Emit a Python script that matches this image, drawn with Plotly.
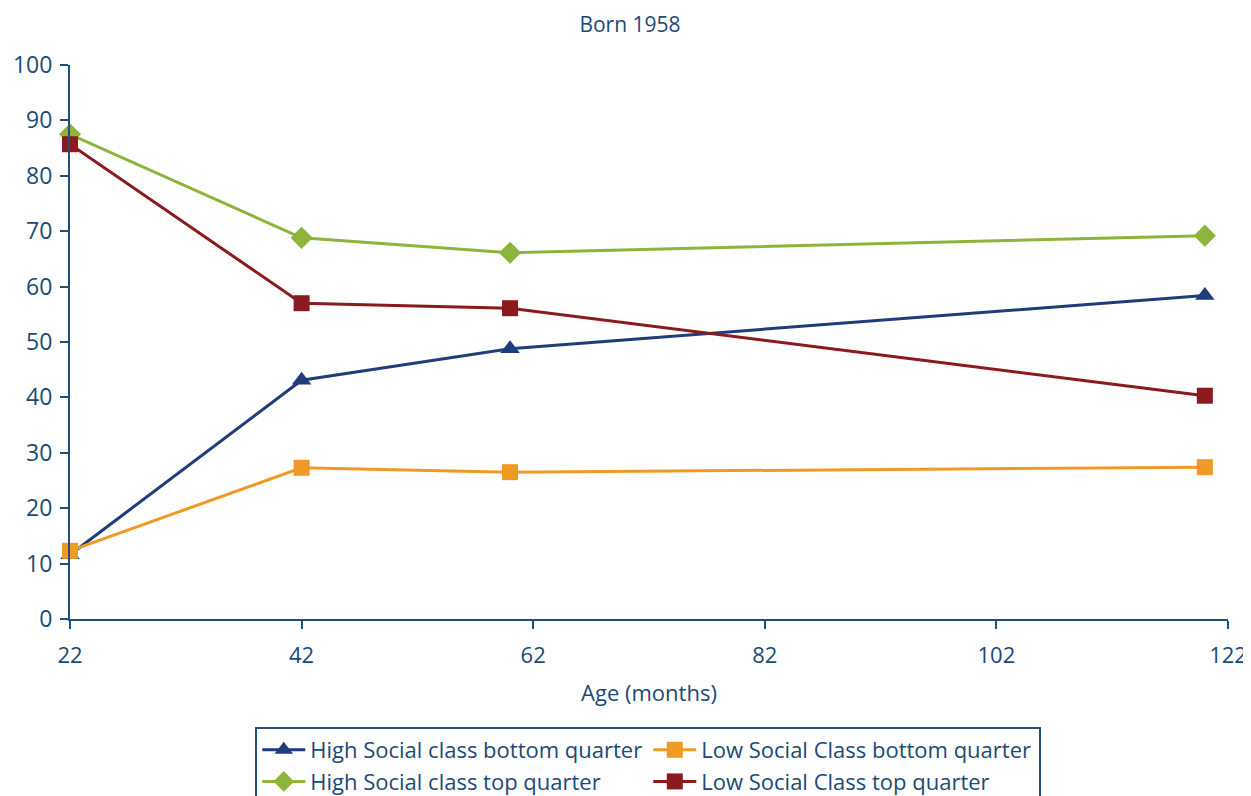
import plotly.graph_objects as go

ages = [22, 42, 60, 120]
high_bottom = [11.6, 43.1, 48.8, 58.4]
low_bottom = [12.3, 27.3, 26.5, 27.4]
high_top = [87.5, 68.8, 66.1, 69.2]
low_top = [85.7, 57.0, 56.1, 40.3]

names = ["High Social class bottom quarter", "Low Social Class bottom quarter",
         "High Social class top quarter", "Low Social Class top quarter"]
series = [high_bottom, low_bottom, high_top, low_top]
colors = ["#1F3C7B", "#EE9A25", "#8DB53C", "#8B1A1C"]
symbols = ["triangle-up", "square", "diamond", "square"]
sizes = [17, 16, 17, 16]

text_color = "#1A4A78"
axis_color = "#1F4F7A"

fig = go.Figure()
for n, s, c, sym, sz in zip(names, series, colors, symbols, sizes):
    fig.add_trace(go.Scatter(
        x=ages, y=s, name=n, mode="lines+markers",
        line=dict(color=c, width=3),
        marker=dict(symbol=sym, size=sz, color=c),
        cliponaxis=False,
    ))

fig.update_layout(
    width=1243, height=788,
    margin=dict(l=62, r=23, t=57, b=177, autoexpand=False),
    paper_bgcolor="white", plot_bgcolor="white",
    font=dict(family="Open Sans", size=22, color=text_color),
    title=dict(text="Born 1958", x=0.5004, xanchor="center", y=0.979, yanchor="middle",
               font=dict(size=21, color=text_color)),
    xaxis=dict(range=[22, 122], tick0=22, dtick=20, showgrid=False, zeroline=False,
               showline=True, linecolor=axis_color, linewidth=2, automargin=False,
               ticks="outside", ticklen=8, tickcolor=axis_color, tickwidth=2,
               ticklabelstandoff=8, tickfont=dict(size=22),
               title=dict(text="Age (months)", font=dict(size=22), standoff=17)),
    yaxis=dict(range=[0, 100], dtick=10, showgrid=False, zeroline=False,
               showline=True, linecolor=axis_color, linewidth=2, automargin=False,
               ticks="outside", ticklen=8, tickcolor=axis_color, tickwidth=2,
               ticklabelstandoff=3, tickfont=dict(size=23)),
    legend=dict(orientation="h", x=0.16, xanchor="left", y=-0.195, yanchor="top",
                bordercolor=axis_color, borderwidth=2, entrywidth=333, entrywidthmode="pixels",
                font=dict(size=22, color=text_color), tracegroupgap=0, itemwidth=43),
    showlegend=True,
)

fig.write_html("out.html")
